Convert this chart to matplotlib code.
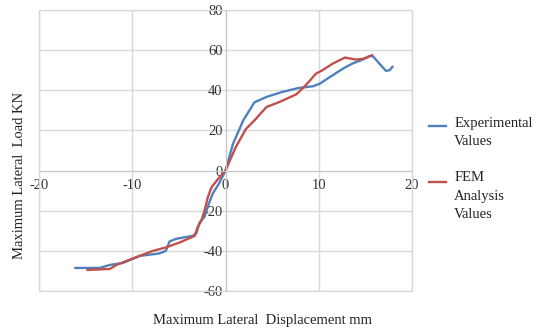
import matplotlib
matplotlib.use("Agg")
import matplotlib.pyplot as plt
from matplotlib.patches import Rectangle
from matplotlib.legend_handler import HandlerLine2D

# --- data -------------------------------------------------------------------
exp_x = [-16.1, -13.5, -12.4, -11.0, -9.2, -7.1, -6.4, -6.0, -5.3, -3.5, -3.1,
         -2.8, -2.25, -1.9, -1.4, -0.64, 0.0, 0.8, 1.9, 3.1, 4.4, 6.1, 7.9,
         9.4, 10.1, 11.5, 12.6, 13.6, 14.7, 15.4, 15.8, 16.5, 17.2, 17.6, 17.9]
exp_y = [-48.5, -48.5, -47.0, -46.0, -42.5, -41.3, -40.0, -35.3, -34.0, -32.5,
         -31.0, -26.0, -23.0, -18.0, -11.7, -6.0, 0.0, 13.3, 25.0, 34.0, 36.7,
         39.2, 41.2, 42.0, 43.3, 47.5, 50.8, 53.3, 55.3, 57.0, 57.0, 53.3, 49.7,
         50.0, 51.7]

fem_x = [-14.8, -12.4, -11.7, -10.6, -9.2, -7.8, -6.4, -4.9, -3.3, -3.0, -2.6,
         -2.25, -1.9, -1.5, -0.8, 0.0, 1.1, 2.2, 3.1, 4.4, 5.8, 7.6, 8.6, 9.7,
         10.4, 11.5, 12.8, 14.0, 14.9, 15.7]
fem_y = [-49.5, -49.0, -47.0, -45.0, -42.5, -40.0, -38.3, -35.8, -32.5, -28.3,
         -25.0, -20.0, -13.3, -8.3, -4.2, 0.0, 11.7, 20.8, 25.0, 31.7, 34.2,
         38.0, 42.5, 48.3, 50.0, 53.3, 56.3, 55.3, 55.8, 57.5]

x_ticks = [-20, -10, 0, 10, 20]
y_ticks = [-60, -40, -20, 0, 20, 40, 60, 80]

plt.rcParams["font.family"] = ["Liberation Serif", "DejaVu Serif"]
plt.rcParams["font.size"] = 10
plt.rcParams["axes.unicode_minus"] = False


class RaisedLine(HandlerLine2D):
    """legend handle lifted towards the first text line (Excel style)"""
    def __init__(self, lift, **kw):
        super().__init__(**kw)
        self.lift = lift

    def create_artists(self, legend, orig_handle, xdescent, ydescent,
                       width, height, fontsize, trans):
        arts = super().create_artists(legend, orig_handle, xdescent, ydescent,
                                      width, height, fontsize, trans)
        for a in arts:
            a.set_ydata([y + self.lift for y in a.get_ydata()])
        return arts


fig = plt.figure(figsize=(5.36, 3.31), dpi=100)
ax = fig.add_axes([0.0728, 0.1208, 0.6959, 0.849])

l_exp, = ax.plot(exp_x, exp_y, color="#4F81BD", lw=1.7,
                 label="Experimental\nValues")
l_fem, = ax.plot(fem_x, fem_y, color="#C0504D", lw=1.7,
                 label="FEM\nAnalysis\nValues")

ax.set_xlim(-20, 20)
ax.set_ylim(-60, 80)
ax.set_xticks(x_ticks)
ax.set_yticks(y_ticks)
ax.grid(True, color="#d9d9d9", lw=1.0)
ax.set_axisbelow(True)

for s in ("top", "right"):
    ax.spines[s].set_visible(False)
ax.spines["left"].set_position("zero")
ax.spines["bottom"].set_position("zero")
ax.spines["left"].set_color("#c8c8c8")
ax.spines["bottom"].set_color("#c8c8c8")
ax.add_patch(Rectangle((0, 0), 1, 1, transform=ax.transAxes, fill=False,
                       edgecolor="#d9d9d9", lw=1.0, clip_on=False))
ax.tick_params(length=0, colors="#333333", labelsize=10.5)
ax.tick_params(axis="x", pad=6)
ax.tick_params(axis="y", pad=2)

fig.text(0.037, 0.47, "Maximum Lateral  Load KN", rotation=90,
         ha="center", va="center", fontsize=10.5, color="#222222")
fig.text(0.49, 0.033, "Maximum Lateral  Displacement mm",
         ha="center", va="center", fontsize=10.5, color="#222222")

leg = fig.legend(handles=[l_exp, l_fem], loc="center left",
                 bbox_to_anchor=(0.80, 0.49), frameon=False,
                 fontsize=10.5, handlelength=1.2, labelspacing=1.57,
                 borderpad=0, borderaxespad=0, handletextpad=0.55,
                 labelcolor="#222222",
                 handler_map={l_exp: RaisedLine(4.7), l_fem: RaisedLine(10.0)})
for t in leg.get_texts():
    t.set_linespacing(1.55)

fig.savefig("out.png", dpi=100)
